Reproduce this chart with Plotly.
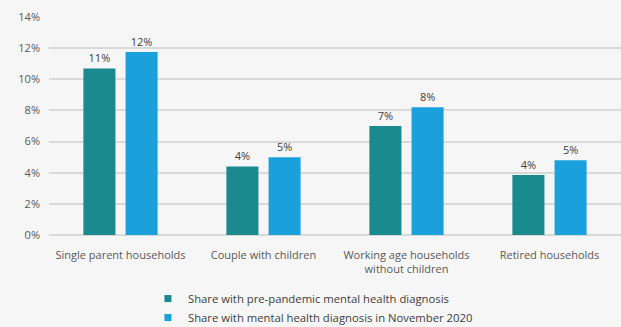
import plotly.graph_objects as go

categories = ["Single parent households", "Couple with children",
              "Working age households<br>without children", "Retired households"]
pre_pandemic = [0.107, 0.044, 0.070, 0.0385]
nov_2020 = [0.1175, 0.050, 0.082, 0.048]
series_names = ["Share with pre-pandemic mental health diagnosis",
                "Share with mental health diagnosis in November 2020"]
colors = ["#1b8a8f", "#1aa1dc"]
tick_vals = [0, 0.02, 0.04, 0.06, 0.08, 0.10, 0.12, 0.14]

fig = go.Figure()
for name, vals, col in zip(series_names, [pre_pandemic, nov_2020], colors):
    fig.add_trace(go.Bar(
        x=categories, y=vals, name=name, marker_color=col,
        marker_line_width=0, showlegend=False,
        texttemplate="%{y:.0%}", textposition="outside",
        textfont=dict(size=11, color="#404040", family="Open Sans"),
        cliponaxis=False,
    ))
# legend entries with small square symbols
for name, col in zip(series_names, colors):
    fig.add_trace(go.Scatter(
        x=[None], y=[None], mode="markers", name=name,
        marker=dict(symbol="square", size=7, color=col),
    ))

fig.update_layout(
    width=621, height=327,
    paper_bgcolor="#f6f6f6", plot_bgcolor="#f6f6f6",
    margin=dict(l=49, r=0, t=17, b=92, autoexpand=False),
    barmode="group", bargap=0.41, bargroupgap=0.24,
    font=dict(family="Open Sans", size=11, color="#595959"),
    showlegend=True,
    legend=dict(orientation="v", x=0.173, xanchor="left", y=-0.225, yanchor="top",
                font=dict(size=11.3, color="#404040"), bgcolor="rgba(0,0,0,0)",
                itemwidth=30),
    xaxis=dict(showgrid=False, showline=False, ticks="", tickfont=dict(size=11),
               ticklabelstandoff=12),
    yaxis=dict(range=[0, 0.14], tickvals=tick_vals, tickformat=".0%",
               showgrid=True, gridcolor="#d9d9d9", gridwidth=1.5,
               zeroline=True, zerolinecolor="#d9d9d9", zerolinewidth=1.5,
               ticks="", tickfont=dict(size=11), ticklabelstandoff=8),
)

fig.write_html("out.html")
